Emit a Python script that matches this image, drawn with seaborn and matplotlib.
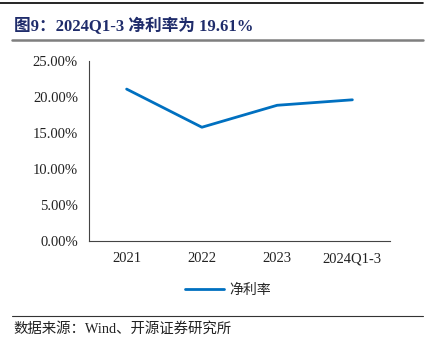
import matplotlib
matplotlib.use("Agg")
import numpy as np
import pandas as pd
import seaborn as sns
import matplotlib.pyplot as plt
from matplotlib.lines import Line2D

# 数据
periods = ["2021", "2022", "2023", "2024Q1-3"]
net_margin = [21.10, 15.80, 18.85, 19.61]
y_ticks = [0, 5, 10, 15, 20, 25]

sns.set_theme(style="white")
plt.rcParams["font.family"] = ["Liberation Serif", "Noto Sans CJK SC"]
plt.rcParams["axes.unicode_minus"] = False

df = pd.DataFrame({"x": np.arange(len(periods)), "净利率": net_margin})

fig = plt.figure(figsize=(4.33, 3.51), dpi=100)
ax = fig.add_axes([89 / 433, 1 - 241 / 351, 301 / 433, 180 / 351])

sns.lineplot(data=df, x="x", y="净利率", ax=ax, color="#0070C0", linewidth=2, legend=False)

ax.set_xlim(-0.5, len(periods) - 0.5)
ax.set_ylim(0, 25)
ax.set_yticks(y_ticks)
ax.set_yticklabels([f"{v:.2f}%" for v in y_ticks], fontsize=10.5, color="#222222")
ax.set_xticks(np.arange(-0.5, len(periods)), labels=[""] * (len(periods) + 1))
ax.set_xticks(np.arange(len(periods)), labels=periods, minor=True)
ax.tick_params(axis="x", which="major", direction="in", length=4, width=0.8, color="#444444")
ax.tick_params(axis="x", which="minor", length=0, pad=8, labelsize=10.5, labelcolor="#222222")
ax.tick_params(axis="y", direction="in", length=4, width=0.8, color="#444444", pad=8)
ax.set_xlabel("")
ax.set_ylabel("")
for s in ["top", "right"]:
    ax.spines[s].set_visible(False)
for s in ["left", "bottom"]:
    ax.spines[s].set_color("#444444")
    ax.spines[s].set_linewidth(0.8)

handle = Line2D([], [], color="#0070C0", linewidth=2)
fig.legend([handle], ["净利率"], loc="center", bbox_to_anchor=(228 / 433, 1 - 290 / 351),
           frameon=False, handlelength=2.8, handletextpad=0.4,
           prop={"family": ["Noto Sans CJK SC"], "size": 10})

# 标题与装饰线
fig.add_artist(Line2D([0, 423 / 433], [1 - 3 / 351] * 2, color="black", linewidth=1.2))
fig.text(14 / 433, 1 - 26 / 351, "图9：2024Q1-3 净利率为 19.61%", fontsize=12, fontweight="bold",
         color="#1F2C6B", va="center", ha="left")
fig.add_artist(Line2D([12 / 433, 423 / 433], [1 - 40 / 351] * 2, color="#7F7F7F", linewidth=1.8))
fig.add_artist(Line2D([12 / 433, 423 / 433], [1 - 316 / 351] * 2, color="#333333", linewidth=0.8))
fig.text(13 / 433, 1 - 329 / 351, "数据来源：Wind、开源证券研究所", fontsize=10.4, color="#222222",
         va="center", ha="left")

fig.savefig("out.png", dpi=100)
